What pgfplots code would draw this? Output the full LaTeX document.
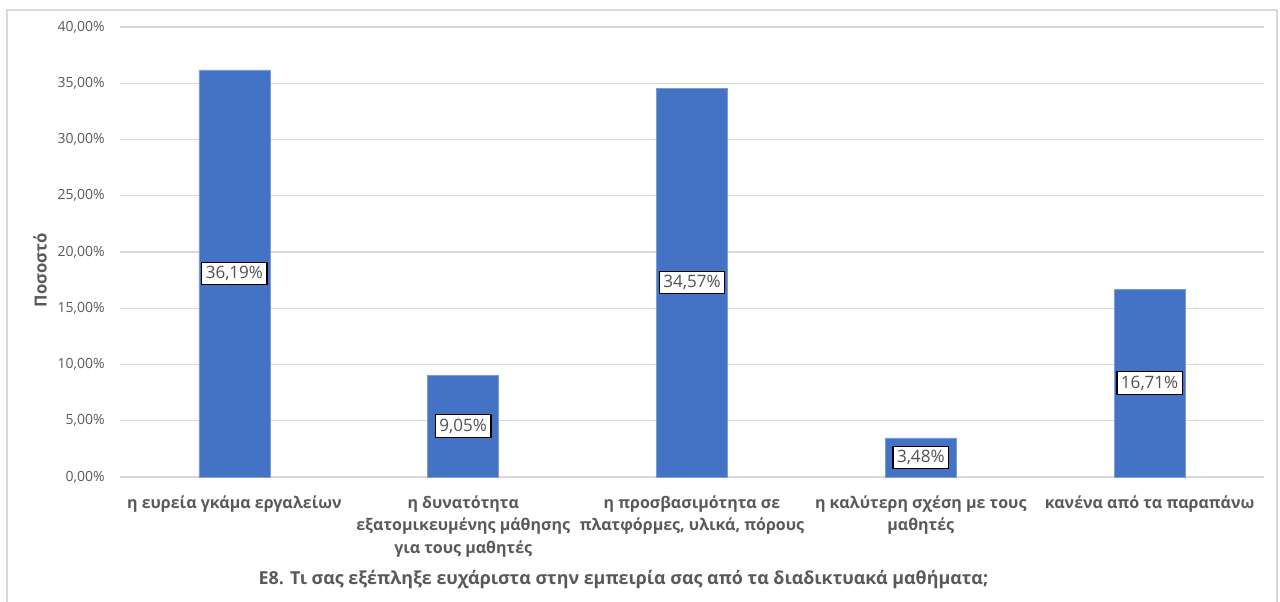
\documentclass[border=0pt]{standalone}
\usepackage{fontspec}
\setmainfont{Open Sans}
\usepackage{pgfplots}
\pgfplotsset{compat=1.18}
\definecolor{barblue}{HTML}{4472C4}
\definecolor{txtgray}{HTML}{595959}
\definecolor{lbltxt}{HTML}{505050}
\definecolor{gridgray}{HTML}{D9D9D9}
\begin{document}
\begin{tikzpicture}
\useasboundingbox (0,0) rectangle (960pt,450.75pt);
\draw[gridgray, line width=1.5pt] (5.25pt,-5pt) rectangle (957.75pt,443.25pt);
\begin{axis}[
  at={(90pt,93pt)}, anchor=south west,
  scale only axis, width=858pt, height=337.5pt,
  ymin=0, ymax=40, xmin=-0.5, xmax=4.5,
  ybar, bar width=53.25pt,
  ytick={0,5,...,40},
  ymajorgrids, major grid style={gridgray, line width=0.9pt},
  axis line style={draw=none}, major tick length=0pt,
  /pgf/number format/assume math mode=true,
  xtick=data,
  xticklabels={{η ευρεία γκάμα εργαλείων},{η δυνατότητα\\εξατομικευμένης μάθησης\\για τους μαθητές},{η προσβασιμότητα σε\\πλατφόρμες, υλικά, πόρους},{η καλύτερη σχέση με τους\\μαθητές},{κανένα από τα παραπάνω}},
  xticklabel style={font=\fontsize{12}{16.8}\selectfont\bfseries, text=txtgray, align=center, anchor=north, yshift=-10.5pt},
  yticklabel={\pgfmathprintnumber[fixed,fixed zerofill,precision=2,use comma]{\tick}\%},
  yticklabel style={font=\fontsize{10.5}{13}\selectfont, text=txtgray, anchor=east, xshift=-8pt},
  visualization depends on={rawy \as \rawy},
  nodes near coords={\pgfmathprintnumber[fixed,fixed zerofill,precision=2,use comma,assume math mode=true]{\pgfplotspointmeta}\%},
  every node near coord/.append style={fill=white, draw=black, line width=0.9pt, text=lbltxt,
     font=\fontsize{12.8}{15}\selectfont, inner sep=3pt, anchor=center, shift={(axis direction cs:0,-\rawy/2)}},
]
\addplot[fill=barblue, draw=barblue!70!white] coordinates {(0,36.19) (1,9.05) (2,34.57) (3,3.48) (4,16.71)};
\end{axis}
\node[rotate=90, font=\fontsize{12.5}{15}\selectfont\bfseries, text=txtgray] at (30pt,248.25pt) {Ποσοστό};
\node[font=\fontsize{13.4}{16}\selectfont\bfseries, text=txtgray] at (467.6pt,15.75pt) {Ε8. Τι σας εξέπληξε ευχάριστα στην εμπειρία σας από τα διαδικτυακά μαθήματα;};
\end{tikzpicture}
\end{document}
